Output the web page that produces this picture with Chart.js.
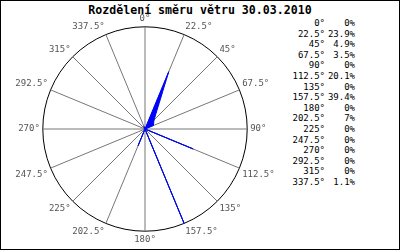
<!DOCTYPE html>
<html>
<head>
<meta charset="utf-8">
<script src="https://cdn.jsdelivr.net/npm/chart.js@4/dist/chart.umd.min.js"></script>
<style>
  html, body { margin: 0; padding: 0; background: #fff; }
  #wrap { position: relative; width: 400px; height: 250px; box-sizing: border-box; border: 1px solid #000; overflow: hidden; }
  #title { position: absolute; left: 0; top: 2px; width: 398px; text-align: center; font: bold 11.6px "DejaVu Sans Mono", monospace; color: #000; }
  #radarBox { position: absolute; left: -1px; top: 12px; width: 290px; height: 233px; }
  #legend { position: absolute; left: 289px; top: 17px; border-collapse: collapse; font: 9px "DejaVu Sans Mono", monospace; color: #000; }
  #legend td { padding: 0; height: 10.6px; line-height: 10.6px; text-align: right; white-space: pre; }
  #legend td.dir { width: 35px; }
  #legend td.val { width: 30px; }
</style>
</head>
<body>
<div id="wrap">
  <div id="title">Rozdělení směru větru 30.03.2010</div>
  <div id="radarBox"><canvas id="windChart" width="290" height="233"></canvas></div>
  <table id="legend"></table>
</div>
<script>
// wind direction share for the day, in percent
const directions = ['0°', '22.5°', '45°', '67.5°', '90°', '112.5°', '135°', '157.5°',
                    '180°', '202.5°', '225°', '247.5°', '270°', '292.5°', '315°', '337.5°'];
const shares = [0, 23.9, 4.9, 3.5, 0, 20.1, 0, 39.4, 0, 7, 0, 0, 0, 0, 0, 1.1];

// legend table on the right
const legend = document.getElementById('legend');
directions.forEach((d, i) => {
  const row = document.createElement('tr');
  const c1 = document.createElement('td');
  c1.className = 'dir';
  c1.textContent = d;
  const c2 = document.createElement('td');
  c2.className = 'val';
  c2.textContent = shares[i] + '%';
  row.appendChild(c1);
  row.appendChild(c2);
  legend.appendChild(row);
});

const maxShare = Math.max(...shares);

new Chart(document.getElementById('windChart'), {
  type: 'radar',
  data: {
    labels: directions,
    datasets: [
      {
        data: shares,
        fill: true,
        backgroundColor: '#0000ff',
        borderColor: '#0000ff',
        borderWidth: 1,
        pointRadius: 0,
        tension: 0
      },
      {
        // green dotted trace over the blue outline
        data: shares,
        fill: false,
        borderColor: '#00cc00',
        borderWidth: 1,
        borderDash: [1, 3],
        pointRadius: 0,
        tension: 0
      }
    ]
  },
  options: {
    responsive: false,
    animation: false,
    layout: { padding: 0 },
    plugins: {
      legend: { display: false },
      title: { display: false },
      tooltip: { enabled: false }
    },
    scales: {
      r: {
        min: 0,
        max: maxShare,
        ticks: { display: false, count: 2 },
        grid: { circular: true, color: '#000', lineWidth: 1 },
        angleLines: { color: '#777', lineWidth: 1 },
        pointLabels: {
          padding: 3,
          color: '#555',
          font: { family: 'DejaVu Sans Mono', size: 9 }
        }
      }
    }
  }
});
</script>
</body>
</html>
